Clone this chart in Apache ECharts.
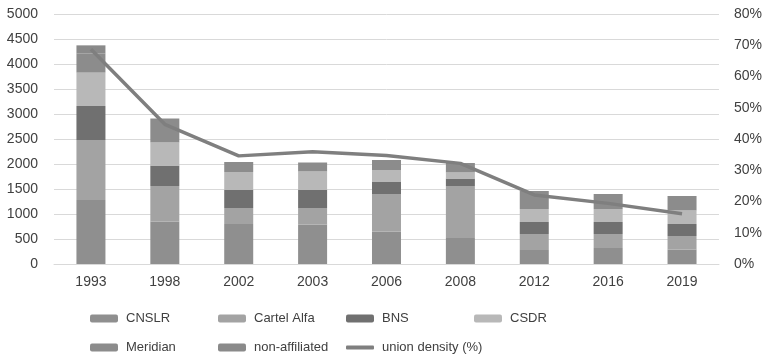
<!DOCTYPE html>
<html>
<head>
<meta charset="utf-8">
<script src="https://cdn.jsdelivr.net/npm/echarts@6/dist/echarts.min.js"></script>
<style>html,body{margin:0;padding:0;background:#fff}#c{width:765px;height:358px}</style>
</head>
<body>
<div id="c"></div>
<script>
var years = ['1993','1998','2002','2003','2006','2008','2012','2016','2019'];
var cnslr = [1280, 850, 800, 790, 650, 520, 280, 320, 290];
var cartelAlfa = [1200, 710, 320, 330, 750, 1040, 320, 280, 270];
var bns = [680, 410, 360, 360, 240, 150, 240, 240, 240];
var csdr = [667, 460, 360, 370, 240, 120, 260, 260, 270];
var meridian = [386, 480, 200, 180, 200, 190, 360, 300, 290];
var nonAffiliated = [160, 0, 0, 0, 0, 0, 0, 0, 0];
var unionDensity = [68.7, 44.7, 34.6, 35.9, 34.7, 32.2, 22.1, 19.4, 16.1];
var leftTicks = [0, 5000, 500];
var rightTicks = [0, 80, 10];
var legendNames = ['CNSLR','Cartel Alfa','BNS','CSDR','Meridian','non-affiliated','union density (%)'];

var font = 'Liberation Sans';
function bar(name, data, color) {
  return {name: name, type: 'bar', stack: 'a', data: data, barWidth: 29,
    itemStyle: {color: color}, emphasis: {disabled: true}};
}
var legends = legendNames.map(function (n, i) {
  var isLine = i === 6;
  return {
    data: [isLine ? {name: n, icon: 'roundRect'} : n],
    left: 85 + (i % 4) * 128, top: i < 4 ? 307 : 336,
    itemWidth: 28, itemHeight: isLine ? 4 : 8, itemGap: 0, selectedMode: false,
    textStyle: {fontFamily: font, fontSize: 13, color: '#404040', padding: [0, 0, 0, 3]}
  };
});
var chart = echarts.init(document.getElementById('c'), null, {renderer: 'canvas'});
chart.setOption({
  animation: false,
  textStyle: {fontFamily: font},
  grid: {left: 54, right: 45, top: 14, bottom: 94},
  legend: legends,
  xAxis: {type: 'category', data: years,
    axisLine: {lineStyle: {color: '#d9d9d9', width: 1}}, axisTick: {show: false},
    axisLabel: {color: '#404040', fontSize: 14, fontFamily: font, margin: 11}},
  yAxis: [
    {type: 'value', min: leftTicks[0], max: leftTicks[1], interval: leftTicks[2],
      axisLine: {show: false}, axisTick: {show: false},
      axisLabel: {color: '#404040', fontSize: 14, fontFamily: font, margin: 16,
        formatter: function (v) { return String(v); }},
      splitLine: {lineStyle: {color: '#d9d9d9', width: 1}}},
    {type: 'value', min: rightTicks[0], max: rightTicks[1], interval: rightTicks[2],
      axisLine: {show: false}, axisTick: {show: false},
      axisLabel: {color: '#404040', fontSize: 14, fontFamily: font, margin: 15, formatter: '{value}%'},
      splitLine: {show: false}}
  ],
  series: [
    bar('CNSLR', cnslr, '#8f8f8f'),
    bar('Cartel Alfa', cartelAlfa, '#a3a3a3'),
    bar('BNS', bns, '#707070'),
    bar('CSDR', csdr, '#b8b8b8'),
    bar('Meridian', meridian, '#8c8c8c'),
    bar('non-affiliated', nonAffiliated, '#8a8a8a'),
    {name: 'union density (%)', type: 'line', yAxisIndex: 1, data: unionDensity,
      symbol: 'none', lineStyle: {color: '#7f7f7f', width: 3.5}, itemStyle: {color: '#7f7f7f'},
      emphasis: {disabled: true}, z: 5}
  ]
});
</script>
</body>
</html>
